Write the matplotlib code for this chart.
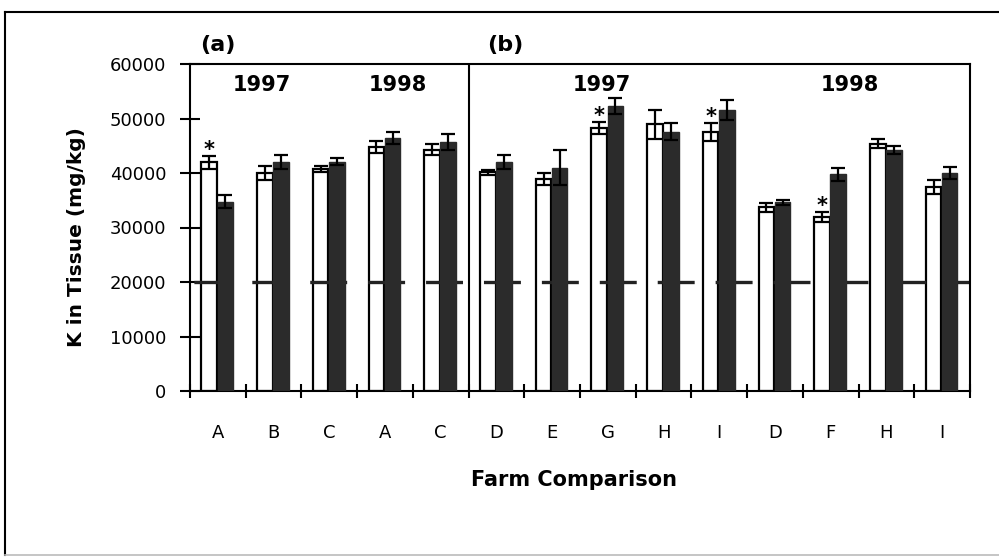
import numpy as np
import matplotlib
matplotlib.use('Agg')
from matplotlib import pyplot as plt
from matplotlib.lines import Line2D

plt.rcParams['font.family'] = ['DejaVu Sans']
plt.rcParams['lines.scale_dashes'] = False

# farm comparison groups, panel (a) then panel (b)
labels = ['A', 'B', 'C', 'A', 'C', 'D', 'E', 'G', 'H', 'I', 'D', 'F', 'H', 'I']
white = [42000, 40000, 40700, 44700, 44300, 40100, 38900, 48300, 48900, 47500,
         33700, 32000, 45400, 37400]
white_err = [1200, 1200, 500, 1100, 1000, 500, 1100, 1100, 2600, 1700,
             800, 900, 900, 1300]
black = [34700, 42000, 42100, 46500, 45700, 42000, 41000, 52300, 47600, 51600,
         34600, 39800, 44200, 40000]
black_err = [1200, 1300, 600, 1100, 1500, 1300, 3200, 1400, 1500, 1800,
             500, 1200, 800, 1100]
stars = [0, 7, 9, 11]
critical = 20000
yticks = [0, 10000, 20000, 30000, 40000, 50000, 60000]

fig = plt.figure(figsize=(9.99, 5.59), dpi=100)
ax = fig.add_axes([190 / 999, 1 - 391 / 559, 780 / 999, 327 / 559])

x = np.arange(len(labels))
w = 0.28
xw = x - 0.155
xb = x + 0.135

ax.bar(xw, white, width=w, color='white', edgecolor='black', linewidth=1.6, zorder=1)
ax.errorbar(xw, white, yerr=white_err, fmt='none', ecolor='black',
            elinewidth=1.6, capsize=5, capthick=1.6, zorder=1.5)
ax.axhline(critical, color='#222222', linewidth=2.4,
           linestyle=(38.9, (26.6, 15.1)), zorder=2)
ax.bar(xb, black, width=w, color='#2b2b2b', edgecolor='#2b2b2b', linewidth=1, zorder=3)
ax.errorbar(xb, black, yerr=black_err, fmt='none', ecolor='black',
            elinewidth=1.6, capsize=5, capthick=1.6, zorder=4)

for i in stars:
    ax.annotate('*', (xw[i], white[i] + white_err[i]), xytext=(0, 0),
                textcoords='offset points', ha='center', va='baseline',
                fontsize=15, fontweight='bold', zorder=5)

ax.axvline(4.5, color='black', linewidth=1.5)

ax.set_xlim(-0.5, 13.5)
ax.set_ylim(0, 60000)
ax.set_yticks(yticks)
ax.set_yticklabels([str(v) for v in yticks])
ax.set_xticks(np.arange(-0.5, 14, 1))
ax.set_xticklabels([])
ax.set_xticks(x, minor=True)
ax.set_xticklabels(labels, minor=True)
ax.tick_params(axis='y', direction='inout', length=14, width=1.5, labelsize=13, pad=10)
ax.tick_params(axis='x', which='major', direction='inout', length=10, width=1.5)
ax.tick_params(axis='x', which='minor', length=0, labelsize=13, pad=24)
for s in ax.spines.values():
    s.set_linewidth(1.5)

fig.text(262 / 999, 1 - 85 / 559, '1997', fontsize=15, fontweight='bold', ha='center', va='center')
fig.text(398 / 999, 1 - 85 / 559, '1998', fontsize=15, fontweight='bold', ha='center', va='center')
fig.text(602 / 999, 1 - 85 / 559, '1997', fontsize=15, fontweight='bold', ha='center', va='center')
fig.text(850 / 999, 1 - 85 / 559, '1998', fontsize=15, fontweight='bold', ha='center', va='center')
fig.text(218 / 999, 1 - 45 / 559, '(a)', fontsize=16, fontweight='bold', ha='center', va='center')
fig.text(505 / 999, 1 - 45 / 559, '(b)', fontsize=16, fontweight='bold', ha='center', va='center')

fig.text(77 / 999, 1 - 237 / 559, 'K in Tissue (mg/kg)', rotation=90, fontsize=14.5,
         fontweight='bold', ha='center', va='center')
fig.text(574 / 999, 1 - 480 / 559, 'Farm Comparison', fontsize=15,
         fontweight='bold', ha='center', va='center')

# scanned page frame
fig.add_artist(Line2D([0.005, 1.0], [0.9785, 0.9785], color='black', linewidth=1.5))
fig.add_artist(Line2D([0.005, 0.005], [0.007, 0.9785], color='black', linewidth=1.5))
fig.add_artist(Line2D([0.005, 1.0], [0.007, 0.007], color='#bbbbbb', linewidth=1.2))

fig.savefig('out.png', dpi=100)
